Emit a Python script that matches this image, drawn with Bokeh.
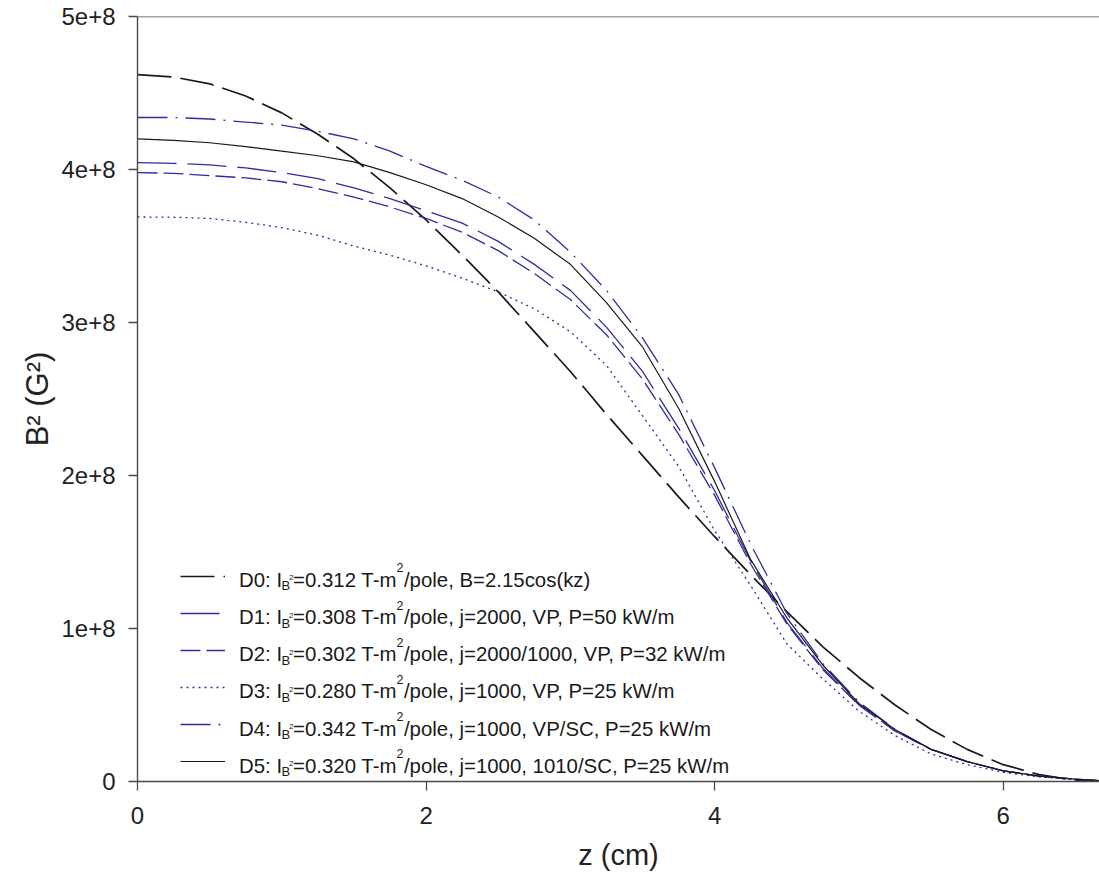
import json
from bokeh.plotting import figure
from bokeh.models import (Range1d, FixedTicker, CustomJSTickFormatter, Legend,
                          LegendItem, Label, Span)
from bokeh.embed import file_html
from bokeh.resources import INLINE

# ---------------- data ----------------
z = [0, 0.25, 0.5, 0.75, 1.0, 1.25, 1.5, 1.75, 2.0, 2.25, 2.5, 2.75, 3.0,
     3.25, 3.5, 3.75, 4.0, 4.25, 4.5, 4.75, 5.0, 5.25, 5.5, 5.75, 6.0, 6.25,
     6.5, 6.67]

d0 = [4.62e8, 4.605e8, 4.56e8, 4.48e8, 4.37e8, 4.23e8, 4.07e8, 3.88e8, 3.67e8,
      3.44e8, 3.20e8, 2.94e8, 2.68e8, 2.40e8, 2.13e8, 1.86e8, 1.60e8, 1.35e8,
      1.11e8, 0.88e8, 0.68e8, 0.50e8, 0.34e8, 0.21e8, 0.11e8, 0.045e8,
      0.007e8, 0.0]
d1 = [4.045e8, 4.04e8, 4.03e8, 4.01e8, 3.98e8, 3.94e8, 3.88e8, 3.81e8, 3.73e8,
      3.65e8, 3.53e8, 3.38e8, 3.21e8, 2.97e8, 2.68e8, 2.31e8, 1.90e8, 1.44e8,
      1.04e8, 0.74e8, 0.50e8, 0.33e8, 0.21e8, 0.13e8, 0.07e8, 0.035e8,
      0.015e8, 0.005e8]
d2 = [3.98e8, 3.975e8, 3.96e8, 3.945e8, 3.92e8, 3.875e8, 3.82e8, 3.755e8,
      3.68e8, 3.59e8, 3.47e8, 3.32e8, 3.15e8, 2.92e8, 2.63e8, 2.27e8, 1.87e8,
      1.42e8, 1.03e8, 0.73e8, 0.50e8, 0.33e8, 0.21e8, 0.13e8, 0.07e8,
      0.035e8, 0.015e8, 0.005e8]
d3 = [3.69e8, 3.688e8, 3.68e8, 3.655e8, 3.62e8, 3.57e8, 3.50e8, 3.44e8, 3.37e8,
      3.29e8, 3.20e8, 3.09e8, 2.94e8, 2.72e8, 2.39e8, 2.06e8, 1.64e8, 1.28e8,
      0.90e8, 0.67e8, 0.46e8, 0.30e8, 0.18e8, 0.11e8, 0.06e8, 0.03e8,
      0.012e8, 0.004e8]
d4 = [4.34e8, 4.34e8, 4.33e8, 4.31e8, 4.29e8, 4.25e8, 4.20e8, 4.12e8, 4.02e8,
      3.93e8, 3.82e8, 3.67e8, 3.46e8, 3.21e8, 2.90e8, 2.53e8, 2.05e8, 1.55e8,
      1.10e8, 0.77e8, 0.52e8, 0.34e8, 0.21e8, 0.13e8, 0.07e8, 0.035e8,
      0.015e8, 0.005e8]
d5 = [4.20e8, 4.19e8, 4.175e8, 4.15e8, 4.12e8, 4.09e8, 4.05e8, 3.98e8, 3.90e8,
      3.81e8, 3.69e8, 3.55e8, 3.38e8, 3.13e8, 2.84e8, 2.44e8, 1.96e8, 1.45e8,
      1.07e8, 0.76e8, 0.51e8, 0.34e8, 0.21e8, 0.13e8, 0.07e8, 0.035e8,
      0.015e8, 0.005e8]

series = [d0, d1, d2, d3, d4, d5]
names = ["D0", "D1", "D2", "D3", "D4", "D5"]
ib2 = ["0.312", "0.308", "0.302", "0.280", "0.342", "0.320"]
descr = ["B=2.15cos(kz)",
         "j=2000, VP, P=50 kW/m",
         "j=2000/1000, VP, P=32 kW/m",
         "j=1000, VP, P=25 kW/m",
         "j=1000, VP/SC, P=25 kW/m",
         "j=1000, 1010/SC, P=25 kW/m"]

xticks = [0, 2, 4, 6]
xtick_labels = ["0", "2", "4", "6"]
yticks = [0, 1e8, 2e8, 3e8, 4e8, 5e8]
ytick_labels = ["0", "1e+8", "2e+8", "3e+8", "4e+8", "5e+8"]

# ---------------- styles ----------------
BLACK = "#1a1a1a"
BLUE = "#2e2e9c"
styles = [
    dict(color=BLACK, dash="34 9", width=1.7),
    dict(color=BLUE, dash="39 11", width=1.3),
    dict(color=BLUE, dash="20 6", width=1.3),
    dict(color=BLUE, dash="2 4", width=1.3),
    dict(color=BLUE, dash="30 8 2 8", width=1.3),
    dict(color=BLACK, dash="solid", width=1.2),
]
FONT = "Liberation Sans"
AXC = "#4a4a4a"

p = figure(width=1099, height=873, output_backend="svg", toolbar_location=None,
           x_range=Range1d(0, 6.667), y_range=Range1d(0, 5e8),
           min_border_left=137, min_border_right=0, min_border_top=16,
           min_border_bottom=89)
p.outline_line_color = None
p.grid.visible = False
p.background_fill_color = "white"
p.border_fill_color = "white"

renderers = []
for s, st in zip(series, styles):
    r = p.line(z, s, line_color=st["color"], line_width=st["width"],
               line_dash=st["dash"])
    renderers.append(r)

# axes
for ax in (p.xaxis[0], p.yaxis[0]):
    ax.axis_line_color = AXC
    ax.axis_line_width = 1.4
    ax.major_tick_line_color = AXC
    ax.major_tick_line_width = 1.3
    ax.major_tick_in = 0
    ax.major_tick_out = 9
    ax.minor_tick_line_color = None
    ax.major_label_text_font = FONT
    ax.major_label_text_font_size = "24px"
    ax.major_label_text_color = "#222222"
    ax.axis_label_text_font = FONT
    ax.axis_label_text_font_style = "normal"
    ax.axis_label_text_color = "#222222"

p.xaxis.axis_label_text_font_size = "29px"
p.yaxis.axis_label_text_font_size = "31px"

p.xaxis.ticker = FixedTicker(ticks=xticks)
p.xaxis.formatter = CustomJSTickFormatter(code="""
const v = %s, l = %s;
const i = v.indexOf(tick);
return i >= 0 ? l[i] : "";
""" % (json.dumps(xticks), json.dumps(xtick_labels)))
p.yaxis.ticker = FixedTicker(ticks=yticks)
p.yaxis.formatter = CustomJSTickFormatter(code="""
const v = %s, l = %s;
const i = v.indexOf(tick);
return i >= 0 ? l[i] : "";
""" % (json.dumps(yticks), json.dumps(ytick_labels)))
p.xaxis.major_label_standoff = 16
p.yaxis.major_label_standoff = 13
p.xaxis.axis_label = "z (cm)"
p.yaxis.axis_label = "B\u00b2 (G\u00b2)"
p.xaxis.axis_label_standoff = 12
p.yaxis.axis_label_standoff = 3

# top frame line
p.add_layout(Span(location=5e8, dimension="width", line_color=AXC,
                  line_width=1.4))

# legend: line samples
items = [LegendItem(label=" ", renderers=[r]) for r in renderers]
legend = Legend(items=items, location=(43, 10.5), glyph_width=45, glyph_height=20,
                label_height=20, label_width=1, spacing=17, padding=0, margin=0,
                label_standoff=0, label_text_font_size="1px",
                border_line_alpha=0, background_fill_alpha=0)
p.add_layout(legend)

# legend texts with sub/superscripts (Arial advance widths /1000 em)
W = {'D': 722, '0': 556, '1': 556, '2': 556, '3': 556, '4': 556, '5': 556,
     '6': 556, '7': 556, '8': 556, '9': 556, ':': 278, ' ': 278, 'I': 278,
     'B': 667, '=': 584, '.': 278, 'T': 611, '-': 333, 'm': 833, '/': 278,
     'p': 556, 'o': 556, 'l': 222, 'e': 556, ',': 278, 'c': 500, 's': 500,
     '(': 333, 'k': 500, 'z': 500, ')': 333, 'j': 222, 'V': 667, 'P': 667,
     'W': 944, 'S': 667, 'C': 722}


def tw(s, size):
    return sum(W.get(ch, 556) for ch in s) / 1000.0 * size


F, FS, FT, FU = 20.4, 13.0, 8.0, 12.5
x0 = 101.5
for i in range(6):
    yb = 201.7 - 37.2 * i
    t1 = f"{names[i]}: I"
    t2 = f"={ib2[i]} T-m"
    t3 = f"/pole, {descr[i]}"
    xb = x0 + tw(t1, F) - 0.5
    x2 = xb + 11.5
    xs = x2 + tw(t2, F) - 1.5
    x3 = xs + tw("2", FU) + 0.5
    pieces = [(x0, yb, t1, F), (xb, yb - 6, "B", FS), (xb + 7.5, yb + 2, "2", FT),
              (x2, yb, t2, F), (xs, yb + 12, "2", FU), (x3, yb, t3, F)]
    for (xx, yy, tt, fs) in pieces:
        p.add_layout(Label(x=xx, y=yy, x_units="screen", y_units="screen",
                           text=tt, text_font=FONT, text_font_size=f"{fs}px",
                           text_color="#1a1a1a", text_baseline="alphabetic",
                           text_align="left"))

open("out.html", "w").write(file_html(p, INLINE))
